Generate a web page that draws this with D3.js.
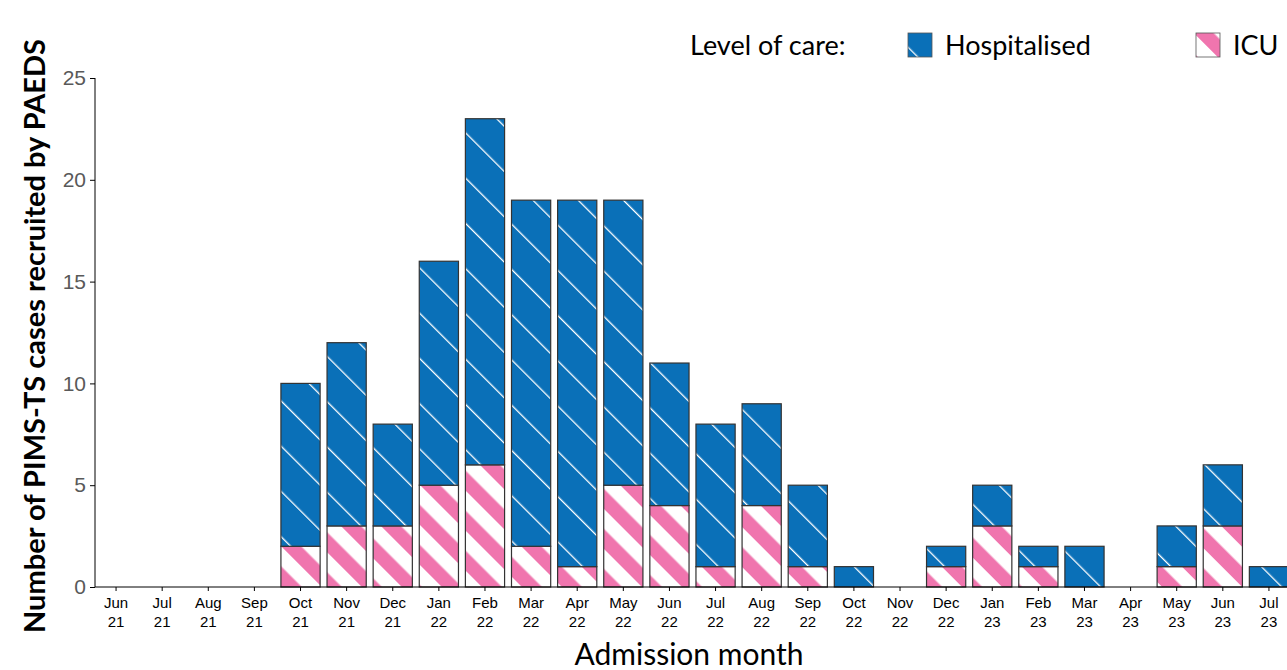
<!DOCTYPE html>
<html>
<head>
<meta charset="utf-8">
<script src="https://cdn.jsdelivr.net/npm/d3@7"></script>
<style>
  body { margin: 0; background: #fff; }
  svg { display: block; font-family: Lato, "Open Sans", sans-serif; }
</style>
</head>
<body>
<div id="chart"></div>
<script>
// admission months (label split over two lines)
const months = ["Jun 21", "Jul 21", "Aug 21", "Sep 21", "Oct 21", "Nov 21", "Dec 21",
    "Jan 22", "Feb 22", "Mar 22", "Apr 22", "May 22", "Jun 22", "Jul 22", "Aug 22",
    "Sep 22", "Oct 22", "Nov 22", "Dec 22", "Jan 23", "Feb 23", "Mar 23", "Apr 23",
    "May 23", "Jun 23", "Jul 23"];
const icu = [0, 0, 0, 0, 2, 3, 3, 5, 6, 2, 1, 5, 4, 1, 4, 1, 0, 0, 1, 3, 1, 0, 0, 1, 3, 0];
const hospitalised = [0, 0, 0, 0, 8, 9, 5, 11, 17, 17, 18, 14, 7, 7, 5, 4, 1, 0, 1, 2, 1, 2, 0, 2, 3, 1];
const yTicks = [0, 5, 10, 15, 20, 25];

const config = {
    width: 1287,
    height: 670,
    margin: { top: 78, right: -5, bottom: 83, left: 93 }
};

const blue = "#0a70b8";
const pink = "#f075ae";

const svg = d3.select("#chart").append("svg")
    .attr("width", config.width)
    .attr("height", config.height);

// hatch patterns
const defs = svg.append("defs");
const hosp = defs.append("pattern")
    .attr("id", "hosp")
    .attr("patternUnits", "userSpaceOnUse")
    .attr("width", 32).attr("height", 10)
    .attr("patternTransform", "rotate(-45)");
hosp.append("rect").attr("width", 32).attr("height", 10).attr("fill", blue);
hosp.append("rect").attr("x", 0).attr("width", 1.3).attr("height", 10).attr("fill", "#fff");

const icuPat = defs.append("pattern")
    .attr("id", "icu")
    .attr("patternUnits", "userSpaceOnUse")
    .attr("width", 28.3).attr("height", 10)
    .attr("patternTransform", "rotate(-45)");
icuPat.append("rect").attr("width", 28.3).attr("height", 10).attr("fill", "#fff");
icuPat.append("rect").attr("width", 14.15).attr("height", 10).attr("fill", pink);

const innerW = config.width - config.margin.left - config.margin.right;
const innerH = config.height - config.margin.top - config.margin.bottom;

const x = d3.scaleBand().domain(months).range([0, innerW]).paddingInner(0.15).paddingOuter(0.075);
const y = d3.scaleLinear().domain([0, 25]).range([innerH, 0]);

const g = svg.append("g")
    .attr("transform", `translate(${config.margin.left},${config.margin.top})`);

const rows = months.map((m, i) => ({ month: m, icu: icu[i], hosp: hospitalised[i] }));

// ICU segment at the bottom
g.selectAll(".icu-bar")
    .data(rows)
    .join("rect")
    .attr("class", "icu-bar")
    .attr("x", d => x(d.month))
    .attr("y", d => y(d.icu))
    .attr("width", x.bandwidth())
    .attr("height", d => y(0) - y(d.icu))
    .attr("fill", "url(#icu)")
    .attr("stroke", "#333")
    .attr("stroke-width", 1.2);

// hospitalised segment stacked on top
g.selectAll(".hosp-bar")
    .data(rows)
    .join("rect")
    .attr("class", "hosp-bar")
    .attr("x", d => x(d.month))
    .attr("y", d => y(d.icu + d.hosp))
    .attr("width", x.bandwidth())
    .attr("height", d => y(d.icu) - y(d.icu + d.hosp))
    .attr("fill", "url(#hosp)")
    .attr("stroke", "#333")
    .attr("stroke-width", 1.2);

// axes
const yAxis = g.append("g")
    .attr("transform", "translate(2,0)")
    .call(d3.axisLeft(y).tickValues(yTicks).tickSize(5).tickPadding(4));
yAxis.select(".domain").attr("stroke", "#000").attr("d", `M0,${y(25)}V${y(0)}`);
yAxis.selectAll(".tick line").attr("stroke", "#000");
yAxis.selectAll(".tick text")
    .attr("fill", "#595959")
    .style("font-size", "21px");

const xAxis = g.append("g")
    .attr("transform", `translate(0,${innerH})`)
    .call(d3.axisBottom(x).tickSize(4).tickSizeOuter(0));
xAxis.select(".domain").attr("stroke", "#000").attr("d", `M2,0H${innerW + 10}`);
xAxis.selectAll(".tick line").attr("stroke", "#000");
xAxis.selectAll(".tick text").remove();
xAxis.selectAll(".tick").each(function(d) {
    const parts = d.split(" ");
    const t = d3.select(this).append("text")
        .attr("fill", "#000")
        .attr("text-anchor", "middle")
        .style("font-size", "15px");
    t.append("tspan").attr("x", 0).attr("y", 21).text(parts[0]);
    t.append("tspan").attr("x", 0).attr("y", 40).text(parts[1]);
});

// axis titles
svg.append("text")
    .attr("x", 689)
    .attr("y", 665)
    .attr("text-anchor", "middle")
    .style("font-size", "30px")
    .text("Admission month");

svg.append("text")
    .attr("transform", "translate(45,336) rotate(-90)")
    .attr("text-anchor", "middle")
    .style("font-size", "29px")
    .style("font-weight", "bold")
    .text("Number of PIMS-TS cases recruited by PAEDS");

// legend
const legend = svg.append("g").style("font-size", "27px");
legend.append("text").attr("x", 690).attr("y", 55).text("Level of care:");
const legendItems = [
    { label: "Hospitalised", fill: "url(#hosp)", x: 908 },
    { label: "ICU", fill: "url(#icu)", x: 1196 }
];
legendItems.forEach(item => {
    legend.append("rect")
        .attr("x", item.x).attr("y", 33)
        .attr("width", 24).attr("height", 24)
        .attr("fill", item.fill)
        .attr("stroke", "#555").attr("stroke-width", 0.8);
    legend.append("text").attr("x", item.x + 37).attr("y", 55).text(item.label);
});
</script>
</body>
</html>
